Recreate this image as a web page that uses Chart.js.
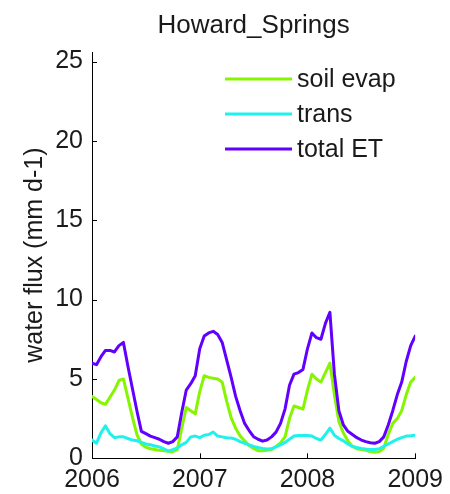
<!DOCTYPE html>
<html>
<head>
<meta charset="utf-8">
<script src="https://cdn.jsdelivr.net/npm/chart.js@4/dist/chart.umd.min.js"></script>
<style>
  html, body { margin: 0; padding: 0; background: #fff; }
</style>
</head>
<body>
<canvas id="myChart" width="450" height="494"></canvas>
<script>
// site + axis text
const siteName = 'Howard_Springs';
const yLabel = 'water flux (mm d-1)';
const yearTicks = [2006, 2007, 2008, 2009];
const fluxTicks = [0, 5, 10, 15, 20, 25];
const stepsPerYear = 24; // half-monthly values, Jan 2006 .. Jan 2009

// series (mm/day)
const soilEvap = [
  3.9, 3.7, 3.5, 3.4, 3.85, 4.3, 4.9, 5.0, 3.8, 2.6, 1.5, 0.9,
  0.7, 0.6, 0.55, 0.5, 0.48, 0.45, 0.42, 0.55, 1.9, 3.2, 3.0, 2.8,
  4.2, 5.2, 5.1, 5.05, 5.0, 4.8, 3.6, 2.55, 1.9, 1.4, 1.1, 0.8,
  0.62, 0.48, 0.47, 0.5, 0.55, 0.75, 0.97, 1.35, 2.5, 3.3, 3.2, 3.1,
  4.3, 5.3, 5.0, 4.8, 5.4, 6.0, 4.0, 2.3, 1.6, 1.1, 0.75, 0.6,
  0.55, 0.5, 0.42, 0.38, 0.42, 0.65, 1.5, 2.2, 2.5, 3.0, 4.0, 4.8,
  5.1
];
const trans = [
  1.15, 0.95, 1.6, 2.05, 1.55, 1.3, 1.35, 1.35, 1.25, 1.15, 1.1, 1.0,
  0.9, 0.85, 0.78, 0.72, 0.6, 0.45, 0.55, 0.65, 0.85, 1.0, 1.35, 1.4,
  1.3, 1.45, 1.5, 1.65, 1.4, 1.35, 1.3, 1.28, 1.2, 1.05, 0.95, 0.85,
  0.75, 0.68, 0.62, 0.58, 0.6, 0.72, 0.85, 1.0, 1.2, 1.4, 1.43, 1.43,
  1.43, 1.4, 1.25, 1.15, 1.5, 1.9, 1.45, 1.25, 1.1, 0.9, 0.75, 0.68,
  0.62, 0.58, 0.56, 0.55, 0.6, 0.75, 0.9, 1.05, 1.2, 1.3, 1.4, 1.42,
  1.45
];
const totalET = [
  6.0, 5.9, 6.4, 6.8, 6.8, 6.7, 7.1, 7.3, 5.8, 4.4, 3.0, 1.7,
  1.55, 1.4, 1.3, 1.2, 1.05, 0.95, 1.05, 1.35, 2.9, 4.3, 4.7, 5.2,
  6.9, 7.7, 7.9, 8.0, 7.8, 7.3, 6.2, 5.1, 3.9, 3.0, 2.2, 1.75,
  1.36, 1.2, 1.08, 1.15, 1.35, 1.65, 2.2, 3.1, 4.6, 5.3, 5.4, 5.6,
  6.9, 7.9, 7.6, 7.5, 8.5, 9.2, 5.3, 3.0, 2.1, 1.7, 1.5, 1.3,
  1.15, 1.05, 0.98, 0.95, 1.05, 1.35, 2.1, 3.0, 4.0, 4.8, 6.1, 7.1,
  7.7
];

const fontFamily = '"Liberation Sans", Arial, Helvetica, sans-serif';
Chart.defaults.font.family = fontFamily;
Chart.defaults.font.size = 25;
Chart.defaults.color = '#1a1a1a';

const toPoints = arr => arr.map((v, i) => ({ x: yearTicks[0] + i / stepsPerYear, y: v }));

// matlab-ish inward ticks, title and legend
const matlabAxes = {
  id: 'matlabAxes',
  afterDraw(chart) {
    const { ctx, chartArea: a, scales: { x, y } } = chart;
    ctx.save();
    ctx.strokeStyle = '#000';
    ctx.lineWidth = 1;
    ctx.beginPath();
    y.ticks.forEach(t => {
      const py = Math.round(y.getPixelForValue(t.value)) + 0.5;
      ctx.moveTo(a.left, py);
      ctx.lineTo(a.left + 5, py);
    });
    x.ticks.forEach(t => {
      const px = Math.round(x.getPixelForValue(t.value)) + 0.5;
      ctx.moveTo(px, a.bottom);
      ctx.lineTo(px, a.bottom - 5);
    });
    ctx.stroke();

    ctx.fillStyle = '#1a1a1a';
    ctx.font = '26px ' + fontFamily;
    ctx.textAlign = 'center';
    ctx.textBaseline = 'alphabetic';
    ctx.fillText(siteName, (a.left + a.right) / 2, 33);

    // legend
    ctx.font = '25px ' + fontFamily;
    ctx.textAlign = 'left';
    ctx.textBaseline = 'middle';
    chart.data.datasets.forEach((ds, i) => {
      const ly = 79 + i * 35;
      ctx.strokeStyle = ds.borderColor;
      ctx.lineWidth = 3;
      ctx.beginPath();
      ctx.moveTo(225, ly);
      ctx.lineTo(292, ly);
      ctx.stroke();
      ctx.fillText(ds.label, 297, ly + 1);
    });
    ctx.restore();
  }
};

const ctx = document.getElementById('myChart');

new Chart(ctx, {
  type: 'line',
  data: {
    datasets: [
      { label: 'soil evap', data: toPoints(soilEvap), borderColor: '#86f500', order: 3 },
      { label: 'trans', data: toPoints(trans), borderColor: '#1ff2ec', order: 2 },
      { label: 'total ET', data: toPoints(totalET), borderColor: '#6200ff', order: 1 }
    ]
  },
  options: {
    responsive: false,
    animation: false,
    devicePixelRatio: 1,
    elements: {
      line: { borderWidth: 3, tension: 0, borderJoinStyle: 'round', borderCapStyle: 'round' },
      point: { radius: 0 }
    },
    layout: { padding: { top: 52, left: 14, right: 31.6, bottom: 0 } },
    scales: {
      x: {
        type: 'linear',
        min: yearTicks[0],
        max: yearTicks[yearTicks.length - 1],
        afterBuildTicks: s => { s.ticks = yearTicks.map(v => ({ value: v })); },
        afterFit: s => { s.height = 35.7; },
        grid: { display: true, drawOnChartArea: false, drawTicks: false },
        border: { display: true, color: '#000', width: 1 },
        ticks: { padding: 7, autoSkip: false, maxRotation: 0, callback: v => String(v) }
      },
      y: {
        min: 0,
        max: 25.6,
        afterBuildTicks: s => { s.ticks = fluxTicks.map(v => ({ value: v })); },
        afterFit: s => { s.width = 78; },
        grid: { display: true, drawOnChartArea: false, drawTicks: false },
        border: { display: true, color: '#000', width: 1 },
        ticks: { padding: 9, callback: v => String(v) },
        title: { display: true, text: yLabel, padding: { top: 6, bottom: 0 }, color: '#1a1a1a' }
      }
    },
    plugins: {
      legend: { display: false },
      tooltip: { enabled: false }
    }
  },
  plugins: [matlabAxes]
});
</script>
</body>
</html>
